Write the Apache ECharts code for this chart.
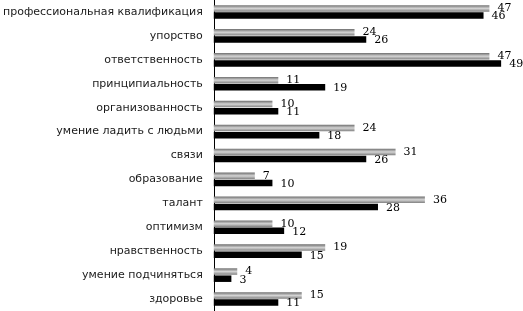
<!DOCTYPE html>
<html><head><meta charset="utf-8">
<script src="https://cdn.jsdelivr.net/npm/echarts@6/dist/echarts.min.js"></script>
<style>html,body{margin:0;padding:0;background:#fff}#c{width:523px;height:311px}</style>
</head><body><div id="c"></div>
<script>
const categories = ['профессиональная квалификация','упорство','ответственность','принципиальность','организованность','умение ладить с людьми','связи','образование','талант','оптимизм','нравственность','умение подчиняться','здоровье'];
const seriesGray = [47,24,47,11,10,24,31,7,36,10,19,4,15];
const seriesBlack = [46,26,49,19,11,18,26,10,28,12,15,3,11];

const chart = echarts.init(document.getElementById('c'), null, {renderer:'canvas'});
const grayGrad = new echarts.graphic.LinearGradient(0,0,0,1,[
  {offset:0,color:'#6e6e6e'},{offset:0.5,color:'#d4d4d4'},{offset:1,color:'#808080'}]);
chart.setOption({
  animation:false,
  grid:{left:212,right:16,top:0,bottom:0,containLabel:false},
  xAxis:{type:'value',min:0,max:50,show:false,splitLine:{show:false}},
  yAxis:{type:'category',data:categories,inverse:true,
    axisLine:{lineStyle:{color:'#000',width:1}},axisTick:{show:false},
    axisLabel:{color:'#1a1a1a',fontFamily:'DejaVu Sans',fontSize:11,margin:11}},
  series:[
    {type:'bar',data:seriesGray,barWidth:6.5,barGap:'10%',barCategoryGap:'43%',
     itemStyle:{color:grayGrad},
     label:{show:true,position:'right',distance:8,color:'#000',fontFamily:'DejaVu Serif',fontSize:11}},
    {type:'bar',data:seriesBlack,barWidth:6.5,
     itemStyle:{color:'#000'},
     label:{show:true,position:'right',distance:8,color:'#000',fontFamily:'DejaVu Serif',fontSize:11,offset:[0,1]}}
  ]
});
</script></body></html>
